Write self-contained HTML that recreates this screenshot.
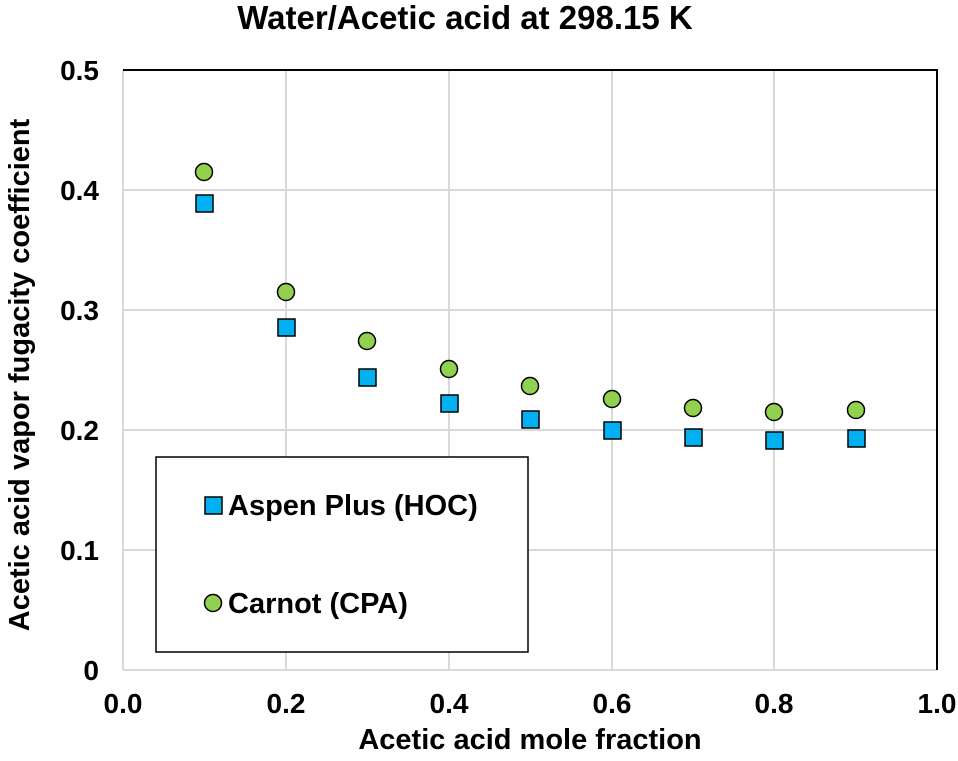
<!DOCTYPE html>
<html><head><style>body{margin:0;background:#fff}</style></head><body>
<svg width="958" height="756" xmlns="http://www.w3.org/2000/svg" font-family="Liberation Sans, Arial, sans-serif" font-weight="bold">
<rect width="958" height="756" fill="#fff"/>
<text x="465" y="29" font-size="33" text-anchor="middle">Water/Acetic acid at 298.15 K</text>
<g stroke="#d9d9d9" stroke-width="2">
<line x1="286" y1="70" x2="286" y2="670"/><line x1="449" y1="70" x2="449" y2="670"/>
<line x1="612" y1="70" x2="612" y2="670"/><line x1="774" y1="70" x2="774" y2="670"/>
<line x1="123" y1="190" x2="937" y2="190"/><line x1="123" y1="310" x2="937" y2="310"/>
<line x1="123" y1="430" x2="937" y2="430"/><line x1="123" y1="550" x2="937" y2="550"/>
<line x1="123" y1="670" x2="937" y2="670"/><line x1="123" y1="70" x2="123" y2="670"/>
</g>
<polyline points="123,70 937,70 937,670" fill="none" stroke="#000" stroke-width="2"/>
<g font-size="28" text-anchor="end">
<text x="99" y="80">0.5</text><text x="99" y="200">0.4</text><text x="99" y="320">0.3</text>
<text x="99" y="440">0.2</text><text x="99" y="560">0.1</text><text x="99" y="680">0</text>
</g>
<g font-size="28" text-anchor="middle">
<text x="123" y="713">0.0</text><text x="286" y="713">0.2</text><text x="449" y="713">0.4</text>
<text x="612" y="713">0.6</text><text x="774" y="713">0.8</text><text x="937" y="713">1.0</text>
</g>
<text x="530" y="749" font-size="29" text-anchor="middle">Acetic acid mole fraction</text>
<text transform="translate(29,375) rotate(-90)" font-size="29" text-anchor="middle">Acetic acid vapor fugacity coefficient</text>
<g fill="#92d050" stroke="#000" stroke-width="1.5">
<circle cx="204" cy="172" r="8.5"/><circle cx="286" cy="292" r="8.5"/><circle cx="367" cy="341" r="8.5"/>
<circle cx="449" cy="369" r="8.5"/><circle cx="530" cy="386" r="8.5"/><circle cx="612" cy="399" r="8.5"/>
<circle cx="693" cy="408" r="8.5"/><circle cx="774" cy="412" r="8.5"/><circle cx="856" cy="410" r="8.5"/>
</g>
<g fill="#00b0f0" stroke="#000" stroke-width="1.5">
<rect x="196" y="195" width="17" height="17"/><rect x="278" y="319" width="17" height="17"/>
<rect x="359" y="369" width="17" height="17"/><rect x="441" y="395" width="17" height="17"/>
<rect x="522" y="411" width="17" height="17"/><rect x="604" y="422" width="17" height="17"/>
<rect x="685" y="429" width="17" height="17"/><rect x="766" y="432" width="17" height="17"/>
<rect x="848" y="430" width="17" height="17"/>
</g>
<rect x="156" y="457" width="372" height="195" fill="#fff" stroke="#000" stroke-width="1.5"/>
<rect x="205" y="497" width="17" height="17" fill="#00b0f0" stroke="#000" stroke-width="1.5"/>
<circle cx="213" cy="603" r="8.5" fill="#92d050" stroke="#000" stroke-width="1.5"/>
<g font-size="29">
<text x="228" y="515">Aspen Plus (HOC)</text>
<text x="228" y="613">Carnot (CPA)</text>
</g>
</svg>
</body></html>
